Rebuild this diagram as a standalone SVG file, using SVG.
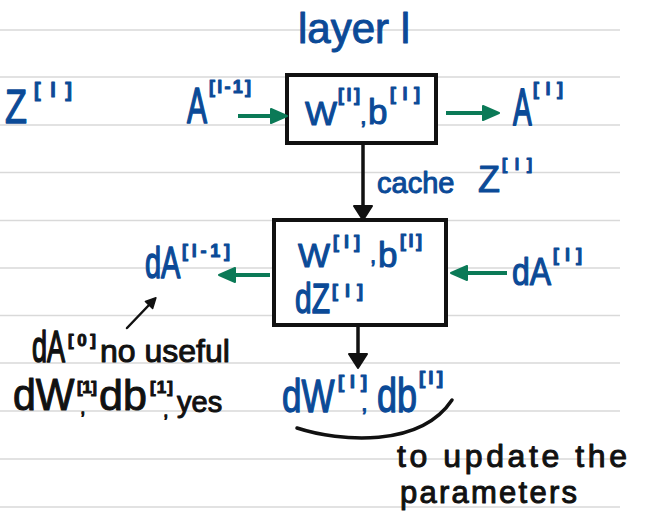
<svg xmlns="http://www.w3.org/2000/svg" width="646" height="517" viewBox="0 0 646 517">
  <style>
    .rule { stroke: #d9d9d9; stroke-width: 1.5; }
    .box { fill: #ffffff; stroke: #111111; stroke-width: 4; }
    .blue { fill: #0b4a97; stroke: #0b4a97; stroke-width: 1; stroke-linejoin: round; font-family: "Liberation Sans", Arial, sans-serif; }
    .ink { fill: #111111; stroke: #111111; stroke-width: 1; stroke-linejoin: round; font-family: "Liberation Sans", Arial, sans-serif; }
    .sup { font-weight: bold; }
    .g-arrow { stroke: #0b7a57; stroke-width: 4; fill: none; marker-end: url(#head-green); }
    .k-arrow { stroke: #111111; stroke-width: 3.5; fill: none; marker-end: url(#head-black); }
    .k-thin { stroke: #111111; stroke-width: 2.5; fill: none; stroke-linecap: round; marker-end: url(#head-small); }
    .brace { stroke: #111111; stroke-width: 3.5; fill: none; stroke-linecap: round; }
  </style>
  <defs>
    <marker id="head-green" viewBox="0 0 18 16" refX="1" refY="8" markerWidth="18" markerHeight="16" orient="auto" markerUnits="userSpaceOnUse">
      <path d="M1,1 L17,8 L1,15 Z" fill="#0b7a57" stroke="#0b7a57" stroke-width="2" stroke-linejoin="round"/>
    </marker>
    <marker id="head-black" viewBox="0 0 16 20" refX="1" refY="10" markerWidth="16" markerHeight="20" orient="auto" markerUnits="userSpaceOnUse">
      <path d="M1,1 L15,10 L1,19 Z" fill="#111111" stroke="#111111" stroke-width="2" stroke-linejoin="round"/>
    </marker>
    <marker id="head-small" viewBox="0 0 12 12" refX="1" refY="6" markerWidth="12" markerHeight="12" orient="auto" markerUnits="userSpaceOnUse">
      <path d="M1,1 L11,6 L1,11 Z" fill="#111111" stroke="#111111" stroke-width="1.5" stroke-linejoin="round"/>
    </marker>
  </defs>

  <rect width="646" height="517" fill="#ffffff"/>

  <!-- notebook ruling -->
  <g id="ruling">
    <line class="rule" x1="0" y1="30" x2="620" y2="30"/>
    <line class="rule" x1="0" y1="77" x2="620" y2="77"/>
    <line class="rule" x1="0" y1="125" x2="620" y2="125"/>
    <line class="rule" x1="0" y1="172.5" x2="620" y2="172.5"/>
    <line class="rule" x1="0" y1="220.5" x2="620" y2="220.5"/>
    <line class="rule" x1="0" y1="268" x2="620" y2="268"/>
    <line class="rule" x1="0" y1="315.5" x2="620" y2="315.5"/>
    <line class="rule" x1="0" y1="363" x2="620" y2="363"/>
    <line class="rule" x1="0" y1="411" x2="620" y2="411"/>
    <line class="rule" x1="0" y1="459" x2="620" y2="459"/>
    <line class="rule" x1="0" y1="507" x2="620" y2="507"/>
  </g>

  <g id="title">
    <text class="blue" x="298" y="43" font-size="42">layer l</text>
  </g>

  <!-- tall letters: narrow font size, stretched upward about the baseline -->
  <g id="z-label">
    <text class="blue" x="5" y="123" font-size="36" transform="translate(0,123) scale(1,1.36) translate(0,-123)">Z</text>
    <text class="blue sup" x="34" y="97" font-size="20" textLength="38" lengthAdjust="spacing">[l]</text>
  </g>

  <g id="a-in">
    <text class="blue" x="187" y="123" font-size="30" transform="translate(0,123) scale(1,1.65) translate(0,-123)">A</text>
    <text class="blue sup" x="209" y="93" font-size="18" textLength="42" lengthAdjust="spacing">[l-1]</text>
  </g>

  <!-- forward block -->
  <g id="forward">
    <rect class="box" x="287" y="75" width="149" height="68"/>
    <text class="blue" x="305" y="125" font-size="34">W</text>
    <text class="blue sup" x="338" y="101" font-size="18" textLength="22" lengthAdjust="spacing">[l]</text>
    <text class="blue" x="360" y="124" font-size="24">,</text>
    <text class="blue" x="368" y="124" font-size="35">b</text>
    <text class="blue sup" x="390" y="100" font-size="18" textLength="30" lengthAdjust="spacing">[l]</text>
  </g>

  <g id="a-out">
    <text class="blue" x="513" y="125" font-size="28" transform="translate(0,125) scale(1,1.85) translate(0,-125)">A</text>
    <text class="blue sup" x="533" y="95" font-size="18" textLength="30" lengthAdjust="spacing">[l]</text>
  </g>

  <g id="cache-label">
    <text class="blue" x="377" y="193" font-size="29">cache</text>
    <text class="blue" x="478" y="192" font-size="36">Z</text>
    <text class="blue sup" x="502" y="170" font-size="16" textLength="30" lengthAdjust="spacing">[l]</text>
  </g>

  <!-- backward block -->
  <g id="backward">
    <rect class="box" x="274" y="220" width="172" height="105"/>
    <text class="blue" x="298" y="267" font-size="34">W</text>
    <text class="blue sup" x="333" y="248" font-size="18" textLength="27" lengthAdjust="spacing">[l]</text>
    <text class="blue" x="370" y="263" font-size="22">,</text>
    <text class="blue" x="378" y="267" font-size="35">b</text>
    <text class="blue sup" x="400" y="247" font-size="18" textLength="22" lengthAdjust="spacing">[l]</text>
    <text class="blue" x="295" y="313" font-size="30" transform="translate(0,313) scale(1,1.4) translate(0,-313)">dZ</text>
    <text class="blue sup" x="332" y="297" font-size="18" textLength="31" lengthAdjust="spacing">[l]</text>
  </g>

  <g id="da-prev">
    <text class="blue" x="145" y="278" font-size="29" transform="translate(0,278) scale(1,1.5) translate(0,-278)">dA</text>
    <text class="blue sup" x="182" y="257" font-size="18" textLength="48" lengthAdjust="spacing">[l-1]</text>
  </g>

  <g id="da-cur">
    <text class="blue" x="512" y="285" font-size="32" transform="translate(0,285) scale(1,1.2) translate(0,-285)">dA</text>
    <text class="blue sup" x="553" y="261" font-size="18" textLength="29" lengthAdjust="spacing">[l]</text>
  </g>

  <g id="grads">
    <text class="blue" x="282" y="412" font-size="35" transform="translate(0,412) scale(1,1.34) translate(0,-412)">dW</text>
    <text class="blue sup" x="338" y="388" font-size="19" textLength="29" lengthAdjust="spacing">[l]</text>
    <text class="blue" x="361" y="411" font-size="24">,</text>
    <text class="blue" x="377" y="412" font-size="36" transform="translate(0,412) scale(1,1.34) translate(0,-412)">db</text>
    <text class="blue sup" x="419" y="384" font-size="19" textLength="24" lengthAdjust="spacing">[l]</text>
  </g>

  <!-- margin note -->
  <g id="note">
    <text class="ink" x="32" y="362" font-size="27" transform="translate(0,362) scale(1,1.65) translate(0,-362)">dA</text>
    <text class="ink sup" x="68" y="346" font-size="17" textLength="28" lengthAdjust="spacing">[0]</text>
    <text class="ink" x="100" y="362" font-size="32">no useful</text>
    <text class="ink" x="13" y="410" font-size="41" transform="translate(0,410) scale(1,1.1) translate(0,-410)">dW</text>
    <text class="ink sup" x="77" y="393" font-size="17" textLength="20" lengthAdjust="spacing">[1]</text>
    <text class="ink" x="80" y="414" font-size="20">,</text>
    <text class="ink" x="99" y="410" font-size="43">db</text>
    <text class="ink sup" x="150" y="393" font-size="17" textLength="23" lengthAdjust="spacing">[1]</text>
    <text class="ink" x="163" y="417" font-size="20">,</text>
    <text class="ink" x="177" y="412" font-size="29">yes</text>
  </g>

  <g id="purpose">
    <path class="brace" d="M297,428 C340,442 420,448 452,400"/>
    <text class="ink" x="397" y="467" font-size="32" textLength="230" lengthAdjust="spacing">to update the</text>
    <text class="ink" x="400" y="503" font-size="31" textLength="177" lengthAdjust="spacing">parameters</text>
  </g>

  <!-- arrows -->
  <g id="connectors">
    <line class="g-arrow" x1="238" y1="116" x2="271" y2="116"/>
    <line class="g-arrow" x1="446" y1="113" x2="483" y2="113"/>
    <line class="k-arrow" x1="363" y1="145" x2="363" y2="206"/>
    <line class="g-arrow" x1="270" y1="275" x2="235" y2="275"/>
    <line class="g-arrow" x1="507" y1="273" x2="467" y2="273"/>
    <line class="k-arrow" x1="358" y1="327" x2="358" y2="354"/>
    <line class="k-thin" x1="127" y1="328" x2="149" y2="305"/>
  </g>
</svg>
